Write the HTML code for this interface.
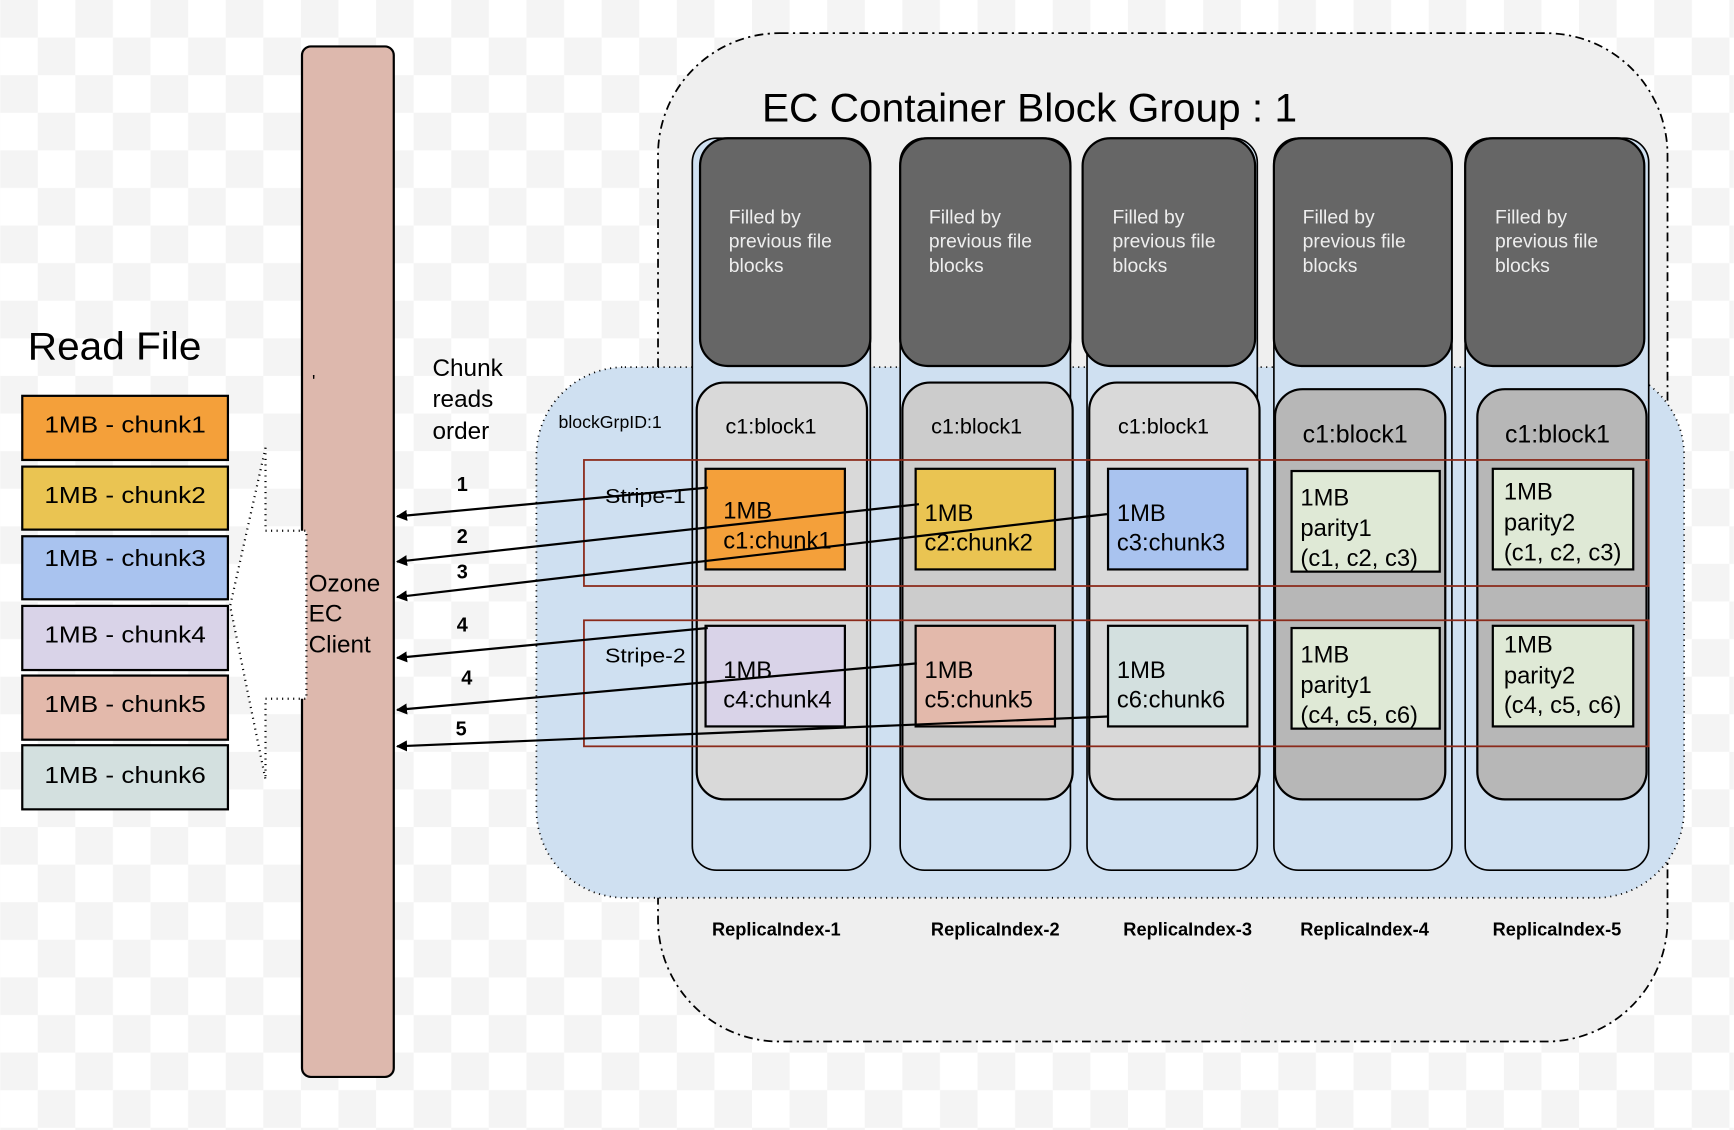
<!DOCTYPE html>
<html><head><meta charset="utf-8"><style>html,body{margin:0;padding:0;background:#fff}svg{display:block}text{font-family:"Liberation Sans",Arial,sans-serif}</style></head>
<body>
<svg width="1734" height="1130" viewBox="0 0 1568 1022" xmlns="http://www.w3.org/2000/svg">
<defs>
<pattern id="ck" width="68" height="68" patternUnits="userSpaceOnUse"><rect width="68" height="68" fill="#fff"/><rect width="34" height="34" fill="#f4f4f4"/><rect x="34" y="34" width="34" height="34" fill="#f4f4f4"/></pattern>
<marker id="ah" markerWidth="10" markerHeight="10" refX="9" refY="5" orient="auto" markerUnits="userSpaceOnUse" viewBox="0 0 10 10"><path d="M0,0 L10,5 L0,10 z" fill="#000"/></marker>
</defs>
<rect width="1568" height="1022" fill="url(#ck)"/>

<!-- Read file -->
<text x="25" y="325" font-size="35" textLength="157" lengthAdjust="spacingAndGlyphs">Read File</text>
<g stroke="#000" stroke-width="2">
<rect x="20" y="358" width="186" height="58" fill="#f4a03a"/>
<rect x="20" y="422" width="186" height="57" fill="#eac452"/>
<rect x="20" y="485" width="186" height="57" fill="#a9c3ef"/>
<rect x="20" y="548" width="186" height="58" fill="#d9d3e8"/>
<rect x="20" y="611" width="186" height="58" fill="#e3b9ab"/>
<rect x="20" y="674" width="186" height="58" fill="#d3e0df"/>
</g>
<g font-size="21">
<text x="40" y="391" textLength="146" lengthAdjust="spacingAndGlyphs">1MB - chunk1</text>
<text x="40" y="455" textLength="146" lengthAdjust="spacingAndGlyphs">1MB - chunk2</text>
<text x="40" y="512" textLength="146" lengthAdjust="spacingAndGlyphs">1MB - chunk3</text>
<text x="40" y="581" textLength="146" lengthAdjust="spacingAndGlyphs">1MB - chunk4</text>
<text x="40" y="644" textLength="146" lengthAdjust="spacingAndGlyphs">1MB - chunk5</text>
<text x="40" y="708" textLength="146" lengthAdjust="spacingAndGlyphs">1MB - chunk6</text>
</g>

<!-- Ozone client -->
<rect x="273" y="42" width="83" height="932" rx="8" fill="#ddb8ad" stroke="#000" stroke-width="2"/>
<path d="M240,405 L240,480 L277,480 L277,632 L240,632 L240,705 L208,548 Z" fill="#fff" stroke="#000" stroke-width="2" stroke-dasharray="1,4"/>
<text x="282" y="350" font-size="16">'</text>
<g font-size="22"><text x="279" y="535">Ozone</text><text x="279" y="562">EC</text><text x="279" y="590">Client</text></g>
<g font-size="22"><text x="391" y="340">Chunk</text><text x="391" y="368">reads</text><text x="391" y="397">order</text></g>

<!-- EC container -->
<rect x="595" y="30" width="913" height="912" rx="110" fill="#efefef" stroke="#000" stroke-width="1.6" stroke-dasharray="8,4,2,4"/>
<text x="689" y="110" font-size="36" textLength="484" lengthAdjust="spacingAndGlyphs">EC Container Block Group : 1</text>
<rect x="485" y="332" width="1038" height="480" rx="80" fill="#cfe0f1" stroke="#000" stroke-width="1.6" stroke-dasharray="1,4"/>
<text x="505" y="387" font-size="16">blockGrpID:1</text>

<!-- columns -->
<g fill="#cfe0f1" stroke="#000" stroke-width="1.5">
<rect x="626" y="125" width="161" height="662" rx="22"/>
<rect x="814" y="125" width="154" height="662" rx="22"/>
<rect x="983" y="125" width="154" height="662" rx="22"/>
<rect x="1152" y="125" width="161" height="662" rx="22"/>
<rect x="1325" y="125" width="166" height="662" rx="22"/>
</g>
<g fill="#666" stroke="#000" stroke-width="2">
<rect x="633" y="125" width="154" height="206" rx="25"/>
<rect x="814" y="125" width="154" height="206" rx="25"/>
<rect x="979" y="125" width="156" height="206" rx="25"/>
<rect x="1152" y="125" width="161" height="206" rx="25"/>
<rect x="1325" y="125" width="162" height="206" rx="25"/>
</g>
<g fill="#eeeeee" font-size="17.5">
<text x="659" y="202">Filled by</text><text x="659" y="224">previous file</text><text x="659" y="246">blocks</text>
<text x="840" y="202">Filled by</text><text x="840" y="224">previous file</text><text x="840" y="246">blocks</text>
<text x="1006" y="202">Filled by</text><text x="1006" y="224">previous file</text><text x="1006" y="246">blocks</text>
<text x="1178" y="202">Filled by</text><text x="1178" y="224">previous file</text><text x="1178" y="246">blocks</text>
<text x="1352" y="202">Filled by</text><text x="1352" y="224">previous file</text><text x="1352" y="246">blocks</text>
</g>
<g stroke="#000" stroke-width="2">
<rect x="630" y="346" width="154" height="377" rx="25" fill="#d9d9d9"/>
<rect x="816" y="346" width="154" height="377" rx="25" fill="#cccccc"/>
<rect x="985" y="346" width="154" height="377" rx="25" fill="#d9d9d9"/>
<rect x="1153" y="352" width="154" height="371" rx="25" fill="#b7b7b7"/>
<rect x="1336" y="352" width="153" height="371" rx="25" fill="#b7b7b7"/>
</g>
<g font-size="19.5"><text x="656" y="392">c1:block1</text><text x="842" y="392">c1:block1</text><text x="1011" y="392">c1:block1</text></g>
<g font-size="22.5"><text x="1178" y="400">c1:block1</text><text x="1361" y="400">c1:block1</text></g>

<!-- stripes -->
<g fill="none" stroke="#8b2a1a" stroke-width="1.6">
<rect x="528" y="416" width="963" height="114"/>
<rect x="528" y="561" width="963" height="114"/>
</g>
<g font-size="18"><text x="547" y="455" textLength="73" lengthAdjust="spacingAndGlyphs">Stripe-1</text><text x="547" y="599" textLength="73" lengthAdjust="spacingAndGlyphs">Stripe-2</text></g>

<!-- chunk squares -->
<g stroke="#000" stroke-width="2">
<rect x="638" y="424" width="126" height="91" fill="#f4a03a"/>
<rect x="828" y="424" width="126" height="91" fill="#eac452"/>
<rect x="1002" y="424" width="126" height="91" fill="#a9c3ef"/>
<rect x="1168" y="426" width="134" height="91" fill="#dfe9d6"/>
<rect x="1350" y="424" width="127" height="91" fill="#dfe9d6"/>
<rect x="638" y="566" width="126" height="91" fill="#d9d3e8"/>
<rect x="828" y="566" width="126" height="91" fill="#e3b9ab"/>
<rect x="1002" y="566" width="126" height="91" fill="#d3e0df"/>
<rect x="1168" y="568" width="134" height="91" fill="#dfe9d6"/>
<rect x="1350" y="566" width="127" height="91" fill="#dfe9d6"/>
</g>
<g font-size="21.5">
<text x="654" y="469">1MB</text><text x="654" y="496">c1:chunk1</text>
<text x="836" y="471">1MB</text><text x="836" y="498">c2:chunk2</text>
<text x="1010" y="471">1MB</text><text x="1010" y="498">c3:chunk3</text>
<text x="1176" y="457">1MB</text><text x="1176" y="485">parity1</text><text x="1176" y="512">(c1, c2, c3)</text>
<text x="1360" y="452">1MB</text><text x="1360" y="480">parity2</text><text x="1360" y="507">(c1, c2, c3)</text>
<text x="654" y="613">1MB</text><text x="654" y="640">c4:chunk4</text>
<text x="836" y="613">1MB</text><text x="836" y="640">c5:chunk5</text>
<text x="1010" y="613">1MB</text><text x="1010" y="640">c6:chunk6</text>
<text x="1176" y="599">1MB</text><text x="1176" y="627">parity1</text><text x="1176" y="654">(c4, c5, c6)</text>
<text x="1360" y="590">1MB</text><text x="1360" y="618">parity2</text><text x="1360" y="645">(c4, c5, c6)</text>
</g>

<!-- arrows -->
<g stroke="#000" stroke-width="2" marker-end="url(#ah)">
<line x1="640" y1="441" x2="359" y2="467"/>
<line x1="831" y1="456" x2="359" y2="508"/>
<line x1="1001" y1="465" x2="359" y2="540"/>
<line x1="640" y1="568" x2="359" y2="595"/>
<line x1="829" y1="600" x2="359" y2="642"/>
<line x1="1002" y1="648" x2="359" y2="675"/>
</g>
<g font-size="18" font-weight="bold">
<text x="413" y="444">1</text><text x="413" y="491">2</text><text x="413" y="523">3</text>
<text x="413" y="571">4</text><text x="417" y="619">4</text><text x="412" y="665">5</text>
</g>

<g font-size="16.5" font-weight="bold" text-anchor="middle">
<text x="702" y="846">ReplicaIndex-1</text>
<text x="900" y="846">ReplicaIndex-2</text>
<text x="1074" y="846">ReplicaIndex-3</text>
<text x="1234" y="846">ReplicaIndex-4</text>
<text x="1408" y="846">ReplicaIndex-5</text>
</g>
</svg>
</body></html>
